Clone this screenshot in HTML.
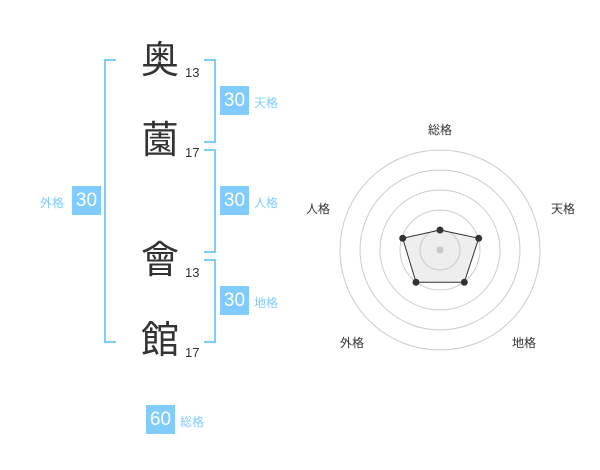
<!DOCTYPE html>
<html><head><meta charset="utf-8"><style>
body{margin:0;width:600px;height:470px;background:#fff;position:relative;overflow:hidden;font-family:"Liberation Sans","Noto Sans CJK JP",sans-serif}
.a{position:absolute}
.k{position:absolute;font-size:38px;color:#333;line-height:40px;width:40px;text-align:center}
.n{position:absolute;font-size:13px;color:#333}
.b{position:absolute;background:#80ccff;color:#fff;font-size:19px;width:29px;height:29px;line-height:29px;text-align:center}
.l{position:absolute;font-size:12px;color:#80ccff}
.br{position:absolute;border:2px solid #80ccff}
</style></head><body>
<div class="br" style="left:104px;top:59px;width:10px;height:280px;border-right:none"></div>
<div class="br" style="left:204px;top:59px;width:10px;height:80px;border-left:none"></div>
<div class="br" style="left:204px;top:149px;width:10px;height:100px;border-left:none"></div>
<div class="br" style="left:204px;top:259px;width:10px;height:80px;border-left:none"></div>
<div class="k" style="left:140px;top:41px">奥</div><div class="n" style="left:185px;top:65px">13</div>
<div class="k" style="left:140px;top:121px">薗</div><div class="n" style="left:185px;top:145px">17</div>
<div class="k" style="left:140px;top:241px">會</div><div class="n" style="left:185px;top:265px">13</div>
<div class="k" style="left:140px;top:321px">館</div><div class="n" style="left:185px;top:345px">17</div>
<div class="b" style="left:220px;top:86px">30</div><div class="l" style="left:254px;top:94px">天格</div>
<div class="b" style="left:220px;top:186px">30</div><div class="l" style="left:254px;top:194px">人格</div>
<div class="b" style="left:220px;top:286px">30</div><div class="l" style="left:254px;top:294px">地格</div>
<div class="b" style="left:72px;top:186px">30</div><div class="l" style="left:40px;top:194px">外格</div>
<div class="b" style="left:146px;top:405px">60</div><div class="l" style="left:180px;top:413px">総格</div>
<svg class="a" style="left:0;top:0" width="600" height="470">
<g fill="none" stroke="#ccc" stroke-width="1">
<circle cx="440" cy="250" r="20"/><circle cx="440" cy="250" r="40"/><circle cx="440" cy="250" r="60"/><circle cx="440" cy="250" r="80"/><circle cx="440" cy="250" r="100"/></g>
<circle cx="440" cy="250" r="3.5" fill="#ccc"/>
<polygon points="440,230 478.7,238.3 464.3,282.3 416,282.3 402.7,238.3" fill="rgba(200,200,200,0.3)" stroke="#333" stroke-width="1"/>
<g fill="#333"><circle cx="440" cy="230" r="3.5"/><circle cx="478.7" cy="238.3" r="3.5"/><circle cx="464.3" cy="282.3" r="3.5"/><circle cx="416" cy="282.3" r="3.5"/><circle cx="402.7" cy="238.3" r="3.5"/></g>
<g font-size="12" fill="#333" text-anchor="middle" font-family="Liberation Sans,Noto Sans CJK JP,sans-serif">
<text x="440" y="134">総格</text><text x="563" y="213">天格</text><text x="318" y="213">人格</text><text x="352" y="347">外格</text><text x="524" y="347">地格</text></g>
</svg>
</body></html>
